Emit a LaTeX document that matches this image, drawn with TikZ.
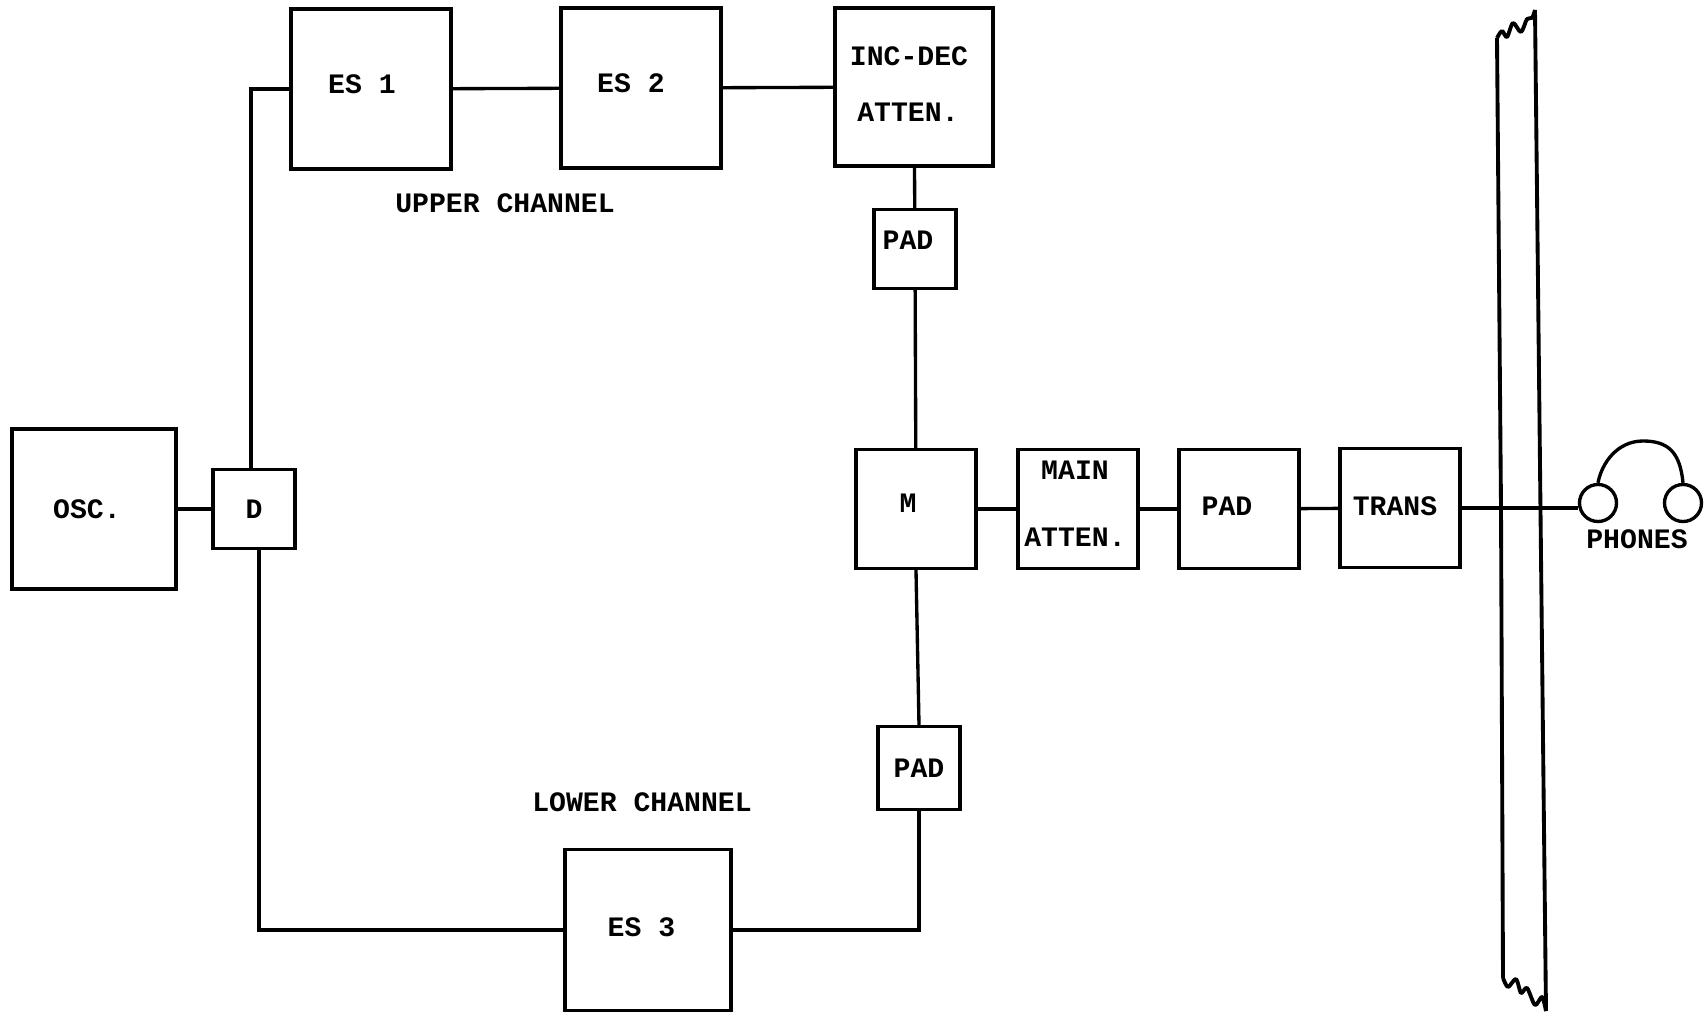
\documentclass[tikz,border=0pt]{standalone}
\usepackage{fontspec}
\setmainfont{Liberation Mono}
\usepackage{tikz}

\begin{document}
\begin{tikzpicture}[x=0.01cm,y=-0.01cm]
        \tikzset{block/.style = {shape=rectangle,draw,line width=0.95pt,inner sep=0pt,font=\bfseries\fontsize{8pt}{15.9pt}\selectfont,align=center}}
        \tikzset{bigblock/.style = {block,minimum width=1.6cm,minimum height=1.6cm}}
        \tikzset{midblock/.style = {block,minimum width=1.2cm,minimum height=1.19cm}}
        \tikzset{smallblock/.style = {block,minimum width=0.82cm,minimum height=0.79cm}}
        \tikzset{edge/.style = {line width=0.95pt}}
        \tikzset{tag/.style = {inner sep=0pt,font=\bfseries\fontsize{8pt}{10pt}\selectfont}}
        \useasboundingbox (0,0) rectangle (1705,1012);
        % blocks
        \node[bigblock,minimum width=1.64cm] (osc) at (94,509) {OSC.\kern1.4mm};
        \node[smallblock] (d) at (254,509) {D};
        \node[bigblock] (es1) at (371,89) {\raisebox{1mm}{ES 1\kern1.8mm}};
        \node[bigblock] (es2) at (641,88) {\raisebox{1mm}{ES 2\kern2mm}};
        \node[bigblock,minimum width=1.58cm,minimum height=1.58cm] (incdec) at (914,87) {INC-DEC\kern1mm\\ATTEN.\kern1.2mm\rule[-.6mm]{0pt}{0pt}};
        \node[smallblock] (pad1) at (915,249) {\raisebox{1.8mm}{PAD\kern1.4mm}};
        \node[midblock] (m) at (916,509) {\raisebox{1.2mm}{M\kern1.6mm}};
        \node[midblock] (main) at (1078,509) {MAIN\kern.6mm\\[1.1mm]ATTEN.\kern.6mm\rule[-1mm]{0pt}{0pt}};
        \node[midblock] (pad2) at (1239,509) {\raisebox{.6mm}{PAD\kern2.4mm}};
        \node[midblock] (trans) at (1400,508) {\raisebox{.4mm}{TRANS\kern1mm}};
        \node[smallblock,minimum height=0.83cm] (pad3) at (919,768) {PAD};
        \node[bigblock,minimum width=1.66cm,minimum height=1.61cm] (es3) at (648,930) {\raisebox{.6mm}{ES 3\kern1.3mm}};
        % labels
        \node[tag] (upper) at (505,203) {UPPER CHANNEL};
        \node[tag] (lower) at (642,802) {LOWER CHANNEL};
        \node[tag] (phones) at (1637,539) {PHONES};
        % phones
        \node[draw,line width=0.95pt,shape=circle,minimum size=0.37cm,inner sep=0pt] (earl) at (1598,503) {};
        \node[draw,line width=0.95pt,shape=circle,minimum size=0.37cm,inner sep=0pt] (earr) at (1683,503) {};
        \draw[edge] (earl.north) .. controls (1602,462) and (1618,441) .. (1643,441) .. controls (1668,441) and (1680,452) .. (earr.north);
        % wall
        \draw[edge,line width=1.1pt,line join=round] plot[smooth,tension=0.5] coordinates {(1497,38) (1502,31) (1507,37) (1513,23) (1521,32) (1527,19) (1532,18) (1535,10)};
        \draw[edge,line width=1.1pt,line join=round] plot[smooth,tension=0.5] coordinates {(1503,978) (1508,987) (1516,979) (1521,993) (1527,988) (1535,1005) (1542,997) (1546,1011)};
        \coordinate (wallat) at (1497,38);
        \coordinate (wallab) at (1503,978);
        \coordinate (wallbt) at (1535,10);
        \coordinate (wallbb) at (1546,1011);
        \draw[edge,line width=1.1pt] (wallat) -- (1501,507) -- (wallab);
        \draw[edge,line width=1.1pt] (wallbt) -- (wallbb);
        %edges
        \draw[edge] (osc) to (d);
        \draw[edge] ([xshift=-0.03cm]d.north) |- (es1.west);
        \draw[edge] (es1) to (es2);
        \draw[edge] (es2) to (incdec);
        \draw[edge] (incdec) to (pad1);
        \draw[edge] (pad1) to (m);
        \draw[edge] ([xshift=0.05cm]d.south) |- (es3.west);
        \draw[edge] (es3.east) -| (pad3.south);
        \draw[edge] (pad3.north) to (m.south);
        \draw[edge] (m) to (main);
        \draw[edge] (main) to (pad2);
        \draw[edge] (pad2) to (trans);
        \draw[edge] (trans.east) -- (trans.east -| earl.west);
\end{tikzpicture}
\end{document}
